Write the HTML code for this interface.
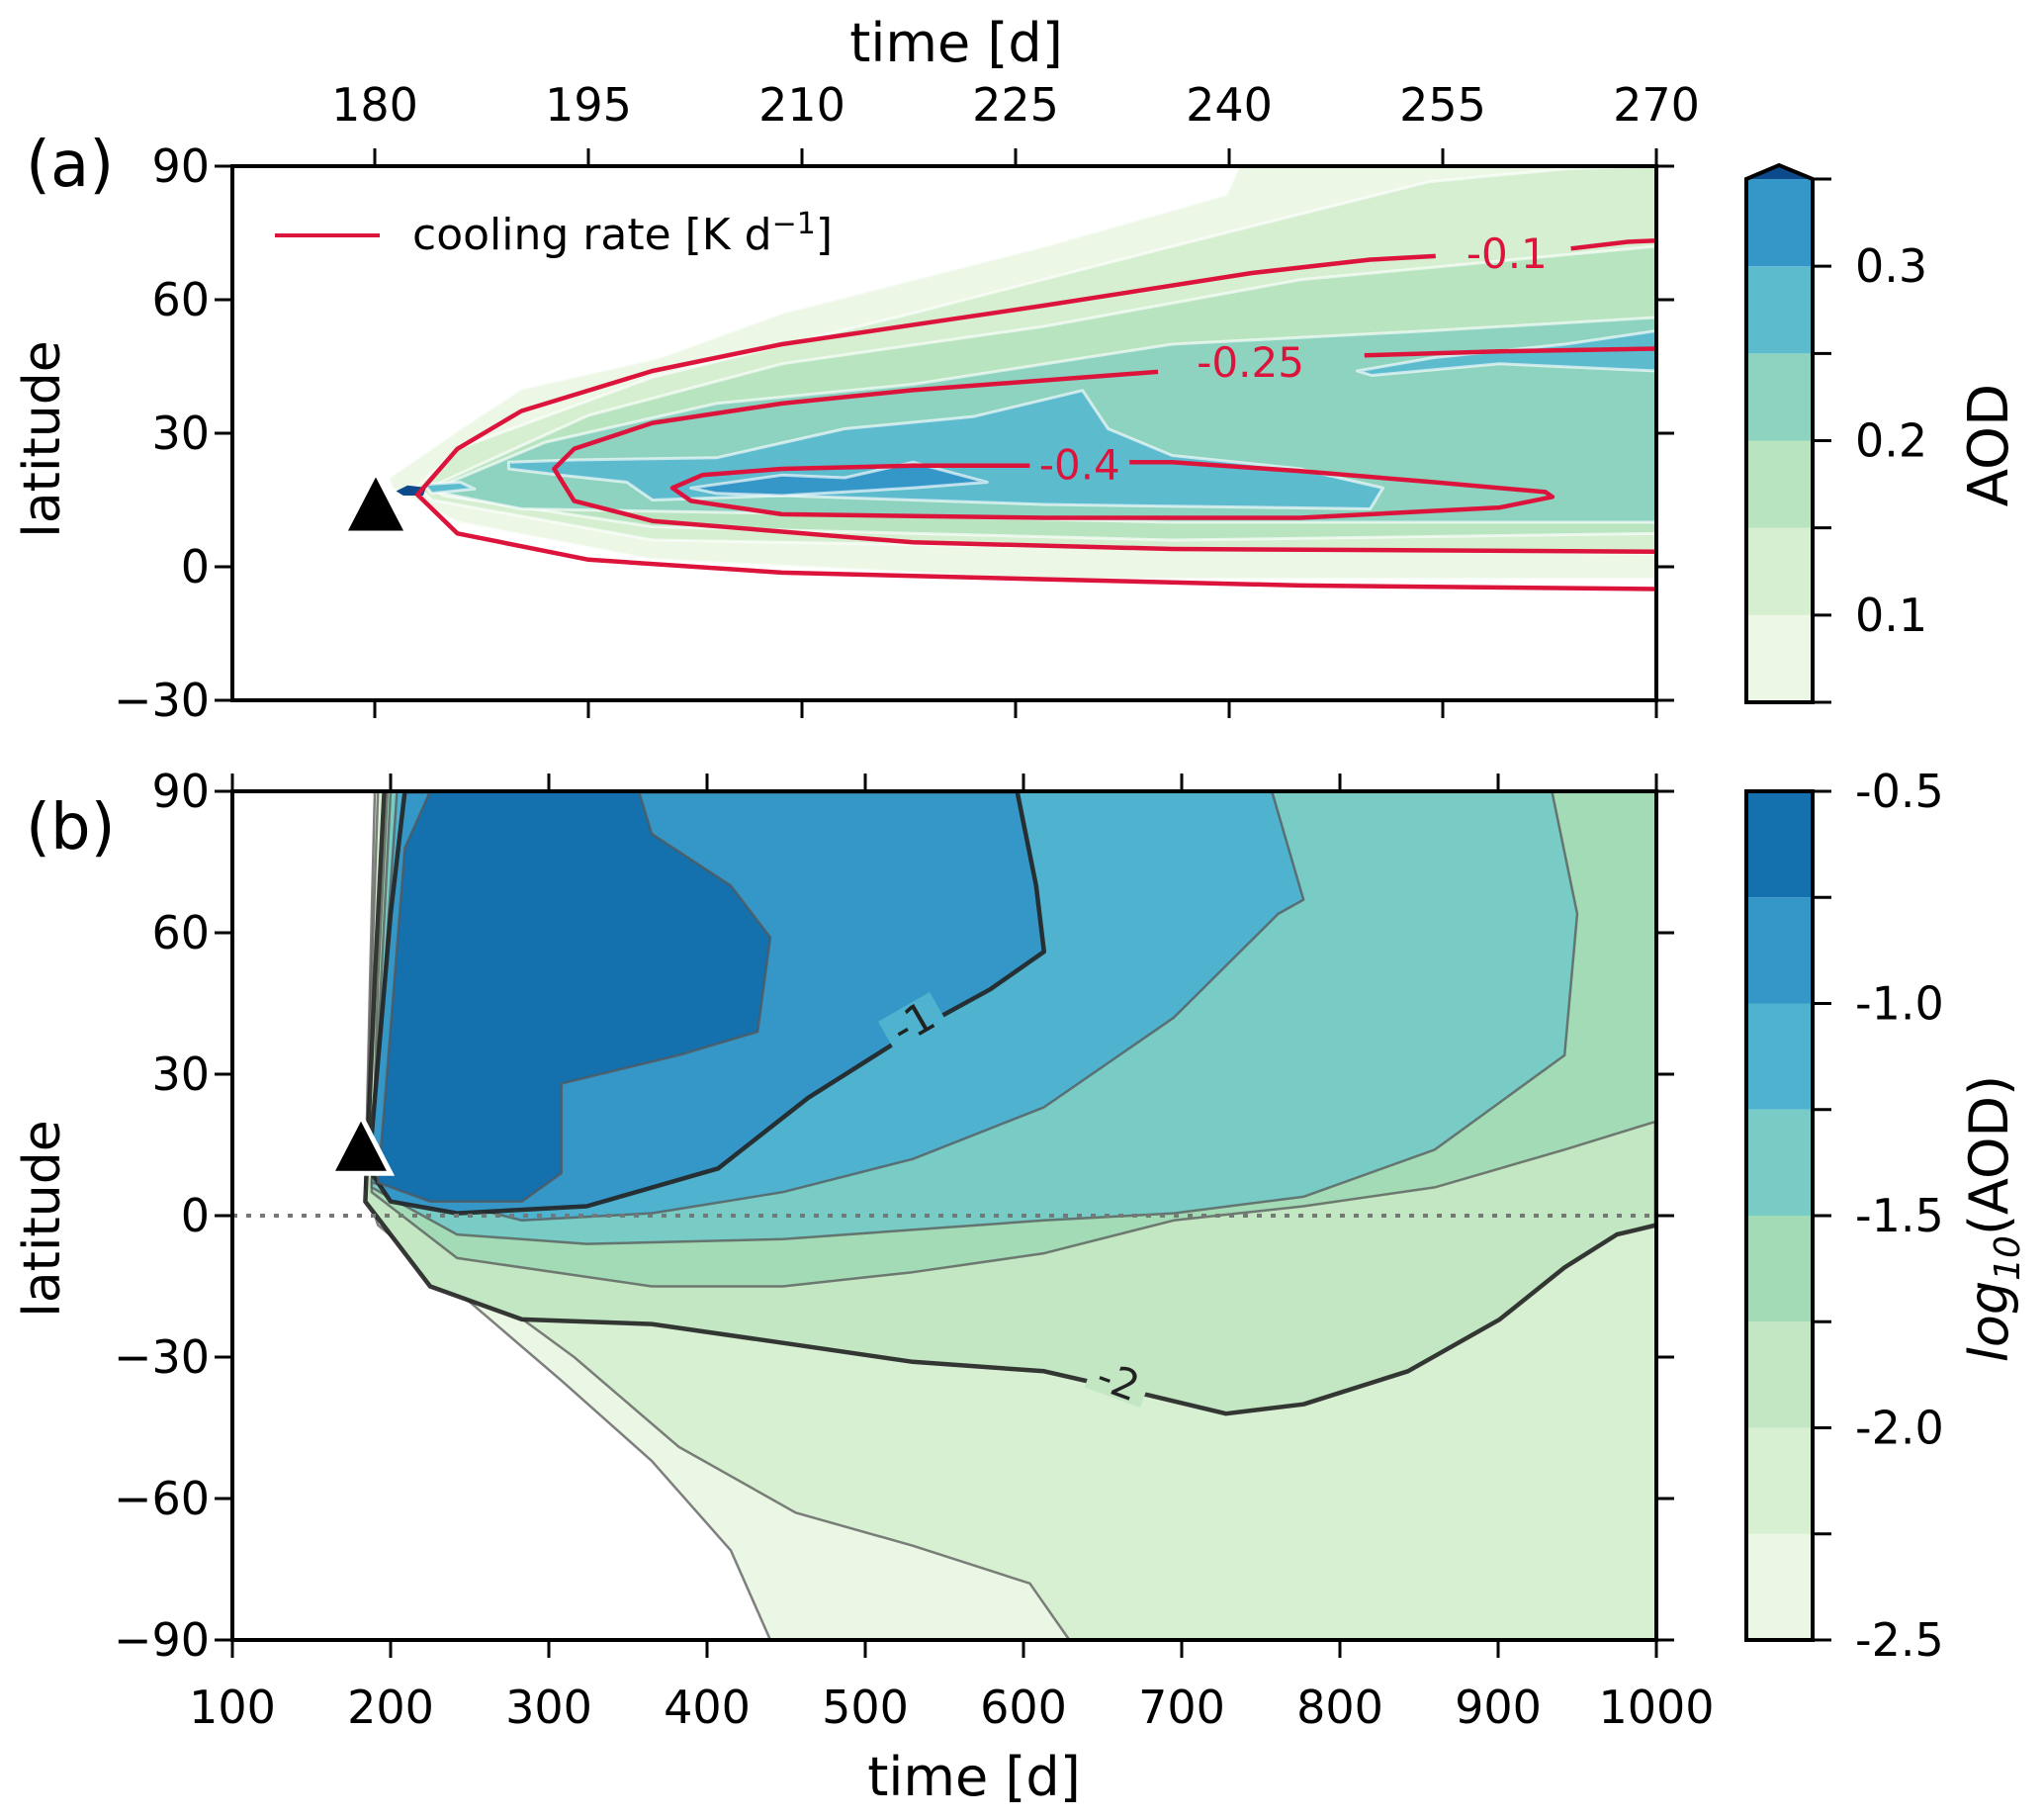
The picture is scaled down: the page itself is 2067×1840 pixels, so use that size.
<!DOCTYPE html>
<html><head><meta charset="utf-8"><style>
html,body{margin:0;padding:0;background:#fff}
svg text{font-family:"DejaVu Sans","Liberation Sans",sans-serif;fill:#000}
</style></head><body>
<svg id="fig" width="2067" height="1835" viewBox="0 0 2067 1835" xmlns="http://www.w3.org/2000/svg">
<defs>
<clipPath id="clipA"><rect x="235" y="168" width="1440" height="540"/></clipPath>
<clipPath id="clipB"><rect x="235" y="800" width="1440" height="858"/></clipPath>
</defs>
<g id="panelA" clip-path="url(#clipA)"></g>
<g id="panelB" clip-path="url(#clipB)"></g>
<g id="overlay"></g>
</svg>
<script>
// ---------- Panel (a) data: AOD filled contours, [time, lat] ----------
const aodLevelsA = [0.05,0.10,0.15,0.20,0.25,0.30,0.35];
const aodColorsA = ["#ecf7e6","#d6efd0","#b8e4c0","#8dd3bf","#5dbbce","#3597c8","#0c4a8c"];
const aodL1 = [[181,20],[186,31],[190.3,40],[200,47],[208.6,57],[227,72],[239.8,83.6],[240.7,90],[270,90],[270,-2.8],[227,-2.8],[199.5,1.6],[185.8,10],[181.2,17.7]];
const aodL2 = [[183,18],[185.8,26.5],[199.5,42.6],[217.8,57],[236,72],[254,86.5],[263.6,89.4],[270,90],[270,3],[227,4.5],[199.5,6],[184,15]];
const aodL3 = [[184,18],[186.7,22],[195,34],[208.6,45.6],[227,54],[245,64.5],[270,72],[270,7.5],[236,6],[199.5,9],[184.8,16]];
const aodL4 = [[184.5,18],[192,28],[204,36.7],[217.8,41],[236,50],[254,53],[270,56],[270,10],[236,10],[208.6,12],[190.3,13],[184,17]];
const aodL5a = [[189.4,23.5],[194,24],[204,24.5],[213,31],[222,33.7],[229.7,39.6],[231.5,31],[236,25],[245,22],[250.8,17.7],[249.9,13],[227,14],[208.6,16],[199.5,15],[197.7,19],[193,20.6],[189.4,22]];
const aodL5b = [[249,44],[254.4,47],[263.6,50],[270,53],[270,44],[259,45.6],[250,43]];
const aodL5c = [[183.5,18.5],[186,19],[187,17.5],[184,16.5]];
const aodL6 = [[202.2,17.7],[208.6,20.6],[213,20],[217.8,23.5],[223,19],[217.8,17.7],[208.6,16],[204,16.5]];
const aodL7 = [[181.5,17],[182.3,18.3],[183.6,17.8],[183.4,16],[182,16]];
// cooling-rate contours (red)
const coolM01a = [[270,73.3],[268,73],[264,71.5]];
const coolM01b = [[254.5,69.8],[249.9,69],[241.6,66],[227,58.7],[208.6,50],[199.5,44],[190.3,35],[185.8,26.5],[183,16.2],[185.8,7.5],[195,1.6],[208.6,-1.3],[227,-2.8],[245,-4.2],[270,-5]];
const coolM025a = [[270,49],[259,48.4],[249.5,47.5]];
const coolM025b = [[235,43.8],[217.8,39.7],[208.6,36.7],[199.5,32.3],[194,26.5],[192.6,22],[194,14.8],[199.5,10.3],[217.8,5.5],[236,4],[270,3.4]];
const coolM04a = [[226,22.7],[217.8,22.7],[208.6,22],[203,20.6],[200.9,17.7],[202.2,14.8],[208.6,11.8],[227,11],[245,11],[259,13.3],[262.7,15.7],[262.2,16.8],[254.4,19],[245,21.5],[236,23.5],[233,23.5]];
// ---------- Panel (b) data: log10(AOD) filled contours ----------
const logLevelsB = [-2.5,-2.25,-2.0,-1.75,-1.5,-1.25,-1.0,-0.75];
const logColorsB = ["#ebf7e5","#d7f0d2","#c3e7c3","#a3dbb7","#79cbc5","#4fb3d0","#3597c8","#1570ae"];
const logL1 = [[190,90],[187,50],[184,6],[192,-2],[242,-16],[308,-35],[365,-52],[415,-71],[440,-90],[1000,-90],[1000,90]];
const logL2 = [[192,90],[188,50],[184,6],[192,0.5],[316,-30],[382,-49],[456,-63],[530,-70],[604,-78],[629,-90],[1000,-90],[1000,90]];
const logL3 = [[196,90],[190,50],[184,3],[225,-15],[283,-22],[365,-23],[448,-27],[530,-31],[613,-33],[678,-38],[728,-42],[777,-40],[843,-33],[901,-22],[942,-11],[975,-4],[1000,-2],[1000,90]];
const logL4 = [[198,90],[192,50],[188,5],[242,-9],[365,-15],[448,-15],[530,-12],[613,-8],[695,-1],[777,2],[860,6],[942,14],[1000,20],[1000,90]];
const logL5 = [[200,90],[194,50],[188,6],[242,-4],[324,-6],[448,-5],[613,-1],[695,0.5],[777,4],[860,14],[942,34],[950,64],[934,90]];
const logL6 = [[204,90],[196,50],[188,7],[283,-1],[365,0.5],[448,5],[530,12],[613,23],[695,42],[761,64],[777,67],[757,90]];
const logL7 = [[209,90],[200,64],[188,17],[188,9],[200,3],[242,0.5],[324,2],[407,10],[464,25],[530,39],[579,48],[613,56],[608,70],[596,90]];
const logL8 = [[225,90],[209,78],[196,23],[192,7],[225,3],[283,3],[308,9],[308,28],[382,34],[432,39],[440,59],[415,70],[365,81],[357,90]];
// ---------- ticks ----------
const topTicksA = [180,195,210,225,240,255,270];
const latTicksA = [90,60,30,0,-30];
const latTicksB = [90,60,30,0,-30,-60,-90];
const timeTicksB = [100,200,300,400,500,600,700,800,900,1000];
const cbTicksA = [0.1,0.2,0.3];
const cbTicksB = [-0.5,-1.0,-1.5,-2.0,-2.5];
const volcano = [180,13];

const NS="http://www.w3.org/2000/svg";
const xa=t=>235+(t-170)/100*1440, ya=l=>168+(90-l)/120*540;
const xb=t=>235+(t-100)/900*1440, yb=l=>800+(90-l)/180*858;
function mk(tag,attrs,parent){const e=document.createElementNS(NS,tag);for(const k in attrs)e.setAttribute(k,attrs[k]);parent.appendChild(e);return e;}
function pts(arr,fx,fy){return arr.map(p=>fx(p[0]).toFixed(1)+","+fy(p[1]).toFixed(1)).join(" ");}
const A=document.getElementById('panelA'),B=document.getElementById('panelB'),O=document.getElementById('overlay');

// panel a fills
[[aodL1,0],[aodL2,1],[aodL3,2],[aodL4,3],[aodL5a,4],[aodL5b,4],[aodL5c,4],[aodL6,5],[aodL7,6]].forEach(([d,i])=>{
  const p=mk('polygon',{points:pts(d,xa,ya),fill:aodColorsA[i],stroke:i==6?'none':'rgba(255,255,255,0.65)','stroke-width':3,'stroke-linejoin':'round'},A);
  
  
});
[coolM01a,coolM01b,coolM025a,coolM025b,coolM04a].forEach((d,i)=>{
  const p=mk('polyline',{points:pts(d,xa,ya),fill:'none',stroke:'#dc143c','stroke-width':4.5,'stroke-linejoin':'round'},A);
  
  
});
[["-0.1",259.5,70.5],["-0.25",241.5,46],["-0.4",229.5,23]].forEach(([s,t,l])=>{
  const e=mk('text',{x:xa(t),y:ya(l)+15,'text-anchor':'middle','font-size':42,style:'fill:#dc143c'},A);e.textContent=s;
  
  
});

// panel b fills
[logL1,logL2,logL3,logL4,logL5,logL6,logL7,logL8].forEach((d,i)=>{
  const thick=(i==2||i==6);
  const p=mk('polygon',{points:pts(d,xb,yb),fill:logColorsB[i],stroke:thick?'#222':'#555','stroke-opacity':thick?0.9:0.75,'stroke-width':thick?4.5:2.5,'stroke-linejoin':'round'},B);
  
  
});
mk('line',{x1:235,x2:1675,y1:yb(0),y2:yb(0),stroke:'#777','stroke-width':4,'stroke-dasharray':'5,9'},B);
[["-1",530,41,-30,"#4fb3d0"],["-2",660,-35,20,"#c3e7c3"]].forEach(([s,t,l,r,c])=>{
  mk('rect',{x:xb(t)-30,y:yb(l)-18,width:60,height:36,fill:c,transform:`rotate(${r} ${xb(t)} ${yb(l)})`},B);
  const e=mk('text',{x:xb(t),y:yb(l)+15,'text-anchor':'middle','font-size':42,transform:`rotate(${r} ${xb(t)} ${yb(l)})`,style:'fill:#222'},B);e.textContent=s;
  
  
});

// volcano markers
(function(){
  let cx=xa(volcano[0])+1, cy=ya(volcano[1]);
  const t1=mk('polygon',{points:`${cx},${cy-32} ${cx-28},${cy+22} ${cx+28},${cy+22}`,fill:'#000'},O);
  
  
  cx=xb(volcano[0])+2; cy=yb(volcano[1]+1);
  const t2=mk('polygon',{points:`${cx},${cy-34} ${cx-30},${cy+24} ${cx+30},${cy+24}`,fill:'#000',stroke:'#fff','stroke-width':5},O);
  
  
})();

// axes frames
function frame(y0,h,name){const r=mk('rect',{x:235,y:y0,width:1440,height:h,fill:'none',stroke:'#000','stroke-width':4},O);}
frame(168,540,'axes-a');frame(800,858,'axes-b');
function txt(s,x,y,fs,anchor,extra){const e=mk('text',Object.assign({x:x,y:y,'font-size':fs,'text-anchor':anchor||'middle'},extra||{}),O);e.textContent=s;return e;}
topTicksA.forEach(t=>{const x=xa(t);
  mk('line',{x1:x,x2:x,y1:168,y2:150,stroke:'#000','stroke-width':3},O);
  mk('line',{x1:x,x2:x,y1:708,y2:726,stroke:'#000','stroke-width':3},O);
  const e=txt(String(t),x,122,46);
  
  
});
latTicksA.forEach(l=>{const y=ya(l);
  mk('line',{x1:235,x2:217,y1:y,y2:y,stroke:'#000','stroke-width':3},O);
  mk('line',{x1:1675,x2:1693,y1:y,y2:y,stroke:'#000','stroke-width':3},O);
  const e=txt(String(l).replace('-','\u2212'),212,y+16,46,'end');
  
  
});
latTicksB.forEach(l=>{const y=yb(l);
  mk('line',{x1:235,x2:217,y1:y,y2:y,stroke:'#000','stroke-width':3},O);
  mk('line',{x1:1675,x2:1693,y1:y,y2:y,stroke:'#000','stroke-width':3},O);
  const e=txt(String(l).replace('-','\u2212'),212,y+16,46,'end');
  
  
});
timeTicksB.forEach(t=>{const x=xb(t);
  mk('line',{x1:x,x2:x,y1:1658,y2:1676,stroke:'#000','stroke-width':3},O);
  mk('line',{x1:x,x2:x,y1:800,y2:782,stroke:'#000','stroke-width':3},O);
  const e=txt(String(t),x,1742,46);
  
  
});
let e;
e=txt('time [d]',967,62,54);
e=txt('time [d]',985,1815,54);
e=txt('latitude',60,444,52,'middle',{transform:'rotate(-90 60 444)'});
e=txt('latitude',60,1232,52,'middle',{transform:'rotate(-90 60 1232)'});
e=txt('(a)',26,188,64,'start');
e=txt('(b)',26,858,64,'start');
const lg=mk('g',{},O);


mk('line',{x1:278,x2:384,y1:238,y2:238,stroke:'#dc143c','stroke-width':4},lg);
const lt=mk('text',{x:417,y:252,'font-size':44},lg);
lt.innerHTML='cooling rate [K d<tspan dy="-16" font-size="30">\u22121</tspan><tspan dy="16">]</tspan>';

const cbA=mk('g',{},O);


const cA=v=>710-(v-0.05)/0.30*529;
for(let i=0;i<6;i++) mk('rect',{x:1766,y:cA(aodLevelsA[i+1]),width:67,height:cA(aodLevelsA[i])-cA(aodLevelsA[i+1]),fill:aodColorsA[i]},cbA);
mk('polygon',{points:'1766,181 1799,167 1833,181',fill:aodColorsA[6]},cbA);
mk('polygon',{points:'1766,710 1766,181 1799,167 1833,181 1833,710',fill:'none',stroke:'#000','stroke-width':4},cbA);
for(let v=0.05;v<0.36;v+=0.05) mk('line',{x1:1833,x2:1852,y1:cA(v),y2:cA(v),stroke:'#000','stroke-width':3},cbA);
cbTicksA.forEach(v=>{const t=mk('text',{x:1876,y:cA(v)+16,'font-size':46},cbA);t.textContent=v.toFixed(1);});
e=txt('AOD',2030,450,56,'middle',{transform:'rotate(-90 2030 450)'});
const cbB=mk('g',{},O);


const cB=v=>800+(-0.5-v)/2.0*858;
for(let i=0;i<8;i++){const lo=logLevelsB[i],hi=(i<7?logLevelsB[i+1]:-0.5);mk('rect',{x:1766,y:cB(hi),width:67,height:cB(lo)-cB(hi),fill:logColorsB[i]},cbB);}
mk('rect',{x:1766,y:800,width:67,height:858,fill:'none',stroke:'#000','stroke-width':4},cbB);
for(let v=-2.5;v<=-0.49;v+=0.25) mk('line',{x1:1833,x2:1852,y1:cB(v),y2:cB(v),stroke:'#000','stroke-width':3},cbB);
cbTicksB.forEach(v=>{const t=mk('text',{x:1876,y:cB(v)+16,'font-size':46},cbB);t.textContent=v.toFixed(1);});
const lb=mk('text',{x:2030,y:1232,'font-size':54,'text-anchor':'middle',transform:'rotate(-90 2030 1232)'},O);


lb.innerHTML='<tspan font-style="italic">log</tspan><tspan font-size="36" font-style="italic" dy="12">10</tspan><tspan dy="-12">(AOD)</tspan>';
</script>
</body></html>
